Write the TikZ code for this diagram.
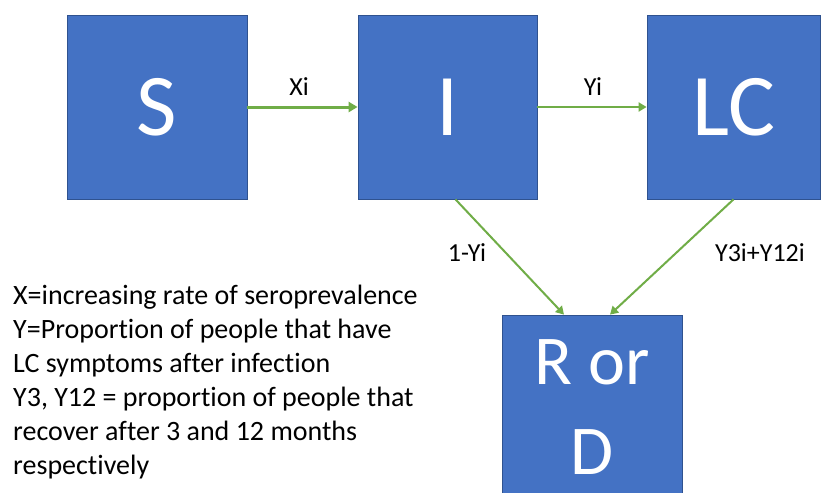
\documentclass[tikz,border=0pt]{standalone}
\usepackage{fontspec}
\setmainfont[Ligatures={NoCommon}]{Carlito}
\usetikzlibrary{arrows.meta}
\definecolor{boxblue}{HTML}{4472C4}
\definecolor{boxedge}{HTML}{2F528F}
\definecolor{arrgreen}{HTML}{70AD47}
\begin{document}
\begin{tikzpicture}[x=1pt,y=-1pt,
  box/.style={draw=boxedge, line width=0.8pt, fill=boxblue, text=white, inner sep=0pt, align=center},
  flow/.style={draw=arrgreen, line width=3pt, -{Triangle[length=9pt,width=10pt]}},
  flowthin/.style={draw=arrgreen, line width=2pt, -{Triangle[length=8pt,width=9pt]}},
  lbl/.style={font=\fontsize{26}{30}\selectfont, text=black, inner sep=0pt}]
\fill[white] (0,0) rectangle (823,493);
\useasboundingbox (0,0) rectangle (823,493);
\begin{scope}
\clip (0,0) rectangle (823,493);
\node[box, minimum width=180pt, minimum height=184pt, font=\fontsize{88}{96}\selectfont] (S) at (157,107) {S};
\node[box, minimum width=179pt, minimum height=184pt, font=\fontsize{88}{96}\selectfont] (I) at (447.5,107) {I};
\node[box, minimum width=173pt, minimum height=184pt, font=\fontsize{88}{96}\selectfont] (LC) at (733.5,107) {LC};
\node[box, minimum width=180pt, minimum height=184pt, font=\fontsize{70}{90}\selectfont] (R) at (592,407) {R or\\D};
\end{scope}
\draw[flow] (S.east) -- (I.west);
\draw[flowthin] (I.east) -- (LC.west);
\draw[flowthin] ([xshift=8pt]I.south) -- ([xshift=-28pt]R.north);
\draw[flowthin] (LC.south) -- ([xshift=18pt]R.north);
\node[lbl] (lxi) at (299,87) {Xi};
\node[lbl] (lyi) at (593,87) {Yi};
\node[lbl] (l1y) at (467,253) {1-Yi};
\node[lbl] (ly3) at (760,253) {Y3i+Y12i};
\node[anchor=north west, align=left, inner sep=0pt, font=\fontsize{28}{34}\selectfont] (legend) at (13,285)
 {X=increasing rate of seroprevalence\\
  Y=Proportion of people that have\\
  LC symptoms after infection\\
  Y3, Y12 = proportion of people that\\
  recover after 3 and 12 months\\
  respectively};
\end{tikzpicture}
\end{document}
